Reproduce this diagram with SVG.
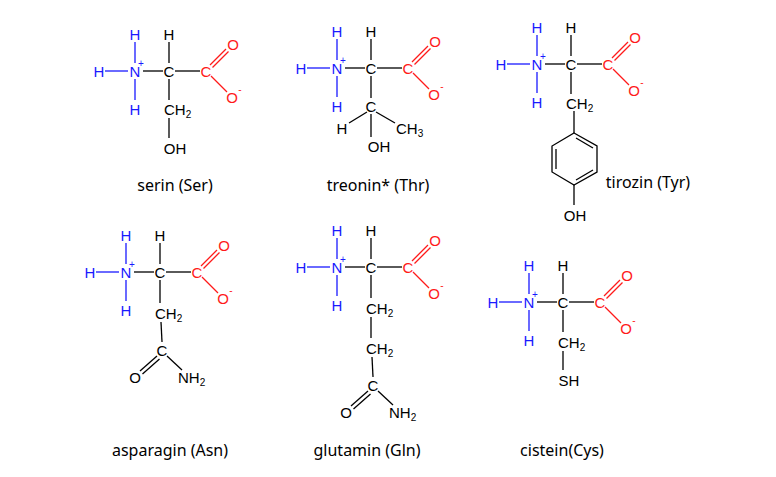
<svg xmlns="http://www.w3.org/2000/svg" xmlns:xlink="http://www.w3.org/1999/xlink" width="776" height="477" viewBox="0 0 776 477">
<style>
text{font-family:"Liberation Sans",Arial,sans-serif;font-size:15px;dominant-baseline:central;text-anchor:middle}
.b{fill:#1a1aff}.r{fill:#ff1a1a}.k{fill:#000}
.lb{stroke:#1a1aff;stroke-width:1.3}.lr{stroke:#ff1a1a;stroke-width:1.3}.lk{stroke:#000;stroke-width:1.3;fill:none}
.sub{font-size:10px}
.cap{font-family:"Noto Sans","Open Sans",sans-serif;font-size:16px;dominant-baseline:auto}
.ch{text-anchor:start}
</style>
<defs>
<g id="core">
<text x="-36" y="0" class="b">H</text><text x="0" y="0" class="b">N</text><text x="6" y="-8" class="b sub">+</text>
<text x="0" y="-37" class="b">H</text><text x="0" y="38" class="b">H</text>
<text x="34" y="0">C</text><text x="34" y="-37">H</text>
<text x="71" y="0" class="r">C</text><text x="98" y="-27" class="r">O</text><text x="97" y="26" class="r">O</text><text x="105" y="18" class="r sub">-</text>
<g class="lb"><line x1="-30" y1="0" x2="-7" y2="0"/><line x1="0" y1="-29" x2="0" y2="-8"/><line x1="0" y1="8" x2="0" y2="29"/></g>
<g class="lk"><line x1="8" y1="0" x2="28" y2="0"/><line x1="34" y1="-29" x2="34" y2="-8"/><line x1="40" y1="0" x2="65" y2="0"/></g>
<g class="lr"><line x1="75" y1="-6" x2="91" y2="-22"/><line x1="77.5" y1="-3.5" x2="93.5" y2="-19.5"/><line x1="76" y1="5" x2="92" y2="21"/></g>
</g>
</defs>
<g id="serin" transform="translate(135,71)">
<use xlink:href="#core" href="#core"/>
<text x="29" y="38" class="ch">CH<tspan class="sub" dy="5">2</tspan></text>
<text x="40" y="77">OH</text>
<g class="lk"><line x1="34" y1="8" x2="34" y2="29"/><line x1="34" y1="47" x2="34" y2="67"/></g>
<text x="40" y="120" class="cap">serin (Ser)</text>
</g>
<g id="treonin" transform="translate(337,68)">
<use xlink:href="#core" href="#core"/>
<text x="34" y="38">C</text>
<text x="5" y="60">H</text>
<text x="59" y="60" class="ch">CH<tspan class="sub" dy="5">3</tspan></text>
<text x="42" y="78">OH</text>
<g class="lk"><line x1="34" y1="8" x2="34" y2="30"/><line x1="30" y1="44" x2="12" y2="55"/><line x1="39" y1="44" x2="58" y2="55"/><line x1="34" y1="46" x2="34" y2="69"/></g>
<text x="41" y="123" class="cap">treonin* (Thr)</text>
</g>
<g id="tirozin" transform="translate(537,64)">
<use xlink:href="#core" href="#core"/>
<text x="29" y="39" class="ch">CH<tspan class="sub" dy="5">2</tspan></text>
<text x="38" y="151">OH</text>
<g class="lk"><line x1="34" y1="8" x2="34" y2="30"/><line x1="37" y1="47" x2="37" y2="69"/>
<polygon points="37,69 60,82 60,108 37,121 15,108 15,82"/>
<line x1="19" y1="85" x2="19" y2="105"/><line x1="39" y1="74" x2="56" y2="84"/><line x1="39" y1="116" x2="56" y2="106"/>
<line x1="37" y1="121" x2="37" y2="141"/></g>
<text x="111" y="124" class="cap">tirozin (Tyr)</text>
</g>
<g id="asparagin" transform="translate(126,272)">
<use xlink:href="#core" href="#core"/>
<text x="29" y="41" class="ch">CH<tspan class="sub" dy="5">2</tspan></text>
<text x="36" y="78">C</text>
<text x="9" y="105">O</text>
<text x="52" y="105" class="ch">NH<tspan class="sub" dy="5">2</tspan></text>
<g class="lk"><line x1="34" y1="8" x2="34" y2="31"/><line x1="35" y1="50" x2="36" y2="70"/>
<line x1="31" y1="84" x2="14" y2="99"/><line x1="33.5" y1="87" x2="16.5" y2="102"/><line x1="41" y1="84" x2="56" y2="98"/></g>
<text x="44" y="184" class="cap">asparagin (Asn)</text>
</g>
<g id="glutamin" transform="translate(337,267)">
<use xlink:href="#core" href="#core"/>
<text x="29" y="41" class="ch">CH<tspan class="sub" dy="5">2</tspan></text>
<text x="29" y="81" class="ch">CH<tspan class="sub" dy="5">2</tspan></text>
<text x="36" y="118">C</text>
<text x="9" y="145">O</text>
<text x="52" y="145" class="ch">NH<tspan class="sub" dy="5">2</tspan></text>
<g class="lk"><line x1="34" y1="8" x2="34" y2="31"/><line x1="34" y1="50" x2="34" y2="71"/><line x1="35" y1="90" x2="36" y2="110"/>
<line x1="31" y1="124" x2="14" y2="139"/><line x1="33.5" y1="127" x2="16.5" y2="142"/><line x1="41" y1="124" x2="56" y2="138"/></g>
<text x="30" y="189" class="cap">glutamin (Gln)</text>
</g>
<g id="cistein" transform="translate(529,302)">
<use xlink:href="#core" href="#core"/>
<text x="29" y="40" class="ch">CH<tspan class="sub" dy="5">2</tspan></text>
<text x="40" y="78">SH</text>
<g class="lk"><line x1="34" y1="8" x2="34" y2="30"/><line x1="34" y1="49" x2="34" y2="68"/></g>
<text x="33" y="154" class="cap">cistein(Cys)</text>
</g>
</svg>
